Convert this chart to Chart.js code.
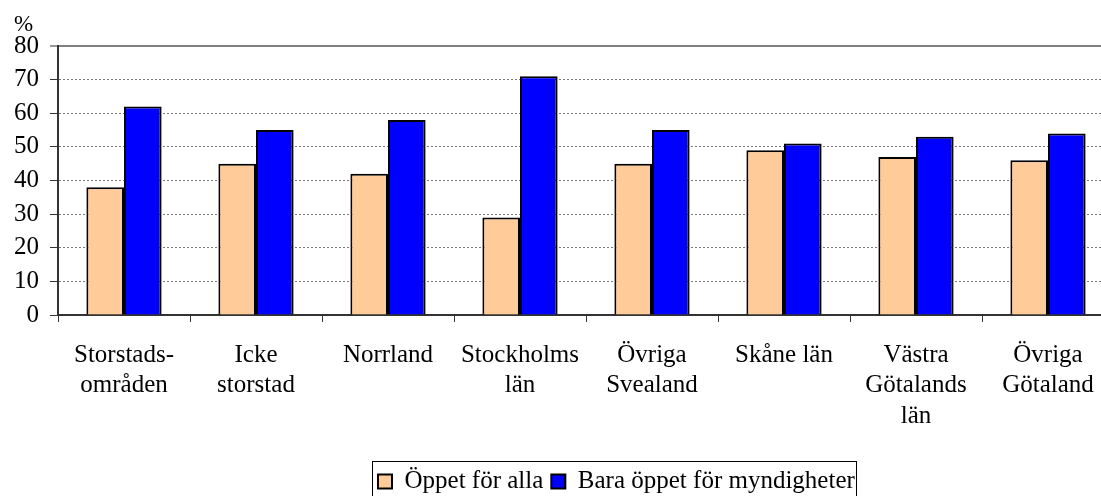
<!DOCTYPE html>
<html>
<head>
<meta charset="utf-8">
<script src="https://cdn.jsdelivr.net/npm/chart.js@4"></script>
<style>
  html, body { margin: 0; padding: 0; background: #fff; overflow: hidden; }
  #wrap { width: 1101px; height: 496px; overflow: hidden; position: relative; }
  #box { width: 1228px; height: 496px; }
</style>
</head>
<body>
<div id="wrap"><div id="box"><canvas id="grafico"></canvas></div></div>
<script>
const kategorier = [
  ["Storstads-", "områden"],
  ["Icke", "storstad"],
  "Norrland",
  ["Stockholms", "län"],
  ["Övriga", "Svealand"],
  "Skåne län",
  ["Västra", "Götalands", "län"],
  ["Övriga", "Götaland"]
];
const oppetForAlla = [38, 45, 42, 29, 45, 49, 47, 46];
const baraMyndigheter = [62, 55, 58, 71, 55, 51, 53, 54];
const yTicks = [0, 10, 20, 30, 40, 50, 60, 70, 80];

const serif = "'Liberation Serif', 'Times New Roman', serif";

// flytta legenden, rita ram runt den och "%" ovanför y-axeln
const extras = {
  id: "extras",
  afterUpdate(chart) {
    const lg = chart.legend;
    const hb = lg.legendHitBoxes;
    if (!hb || !hb.length) return;
    const d = 378 - hb[0].left;
    lg.left += d;
    lg.right += d;
    hb.forEach(h => { h.left += d; });
  },
  afterDraw(chart) {
    const ctx = chart.ctx;
    ctx.save();
    ctx.fillStyle = "#000";
    ctx.font = "23px " + serif;
    ctx.textBaseline = "alphabetic";
    ctx.fillText("%", 14, 31);

    const hb = chart.legend.legendHitBoxes;
    if (hb && hb.length) {
      const left = hb[0].left - 6;
      const right = hb[hb.length - 1].left + hb[hb.length - 1].width + 1;
      const top = hb[0].top - 8;
      ctx.strokeStyle = "#000";
      ctx.lineWidth = 1;
      ctx.strokeRect(Math.round(left) + 0.5, Math.round(top) + 0.5, Math.round(right - left), 60);
    }
    ctx.restore();
  }
};

new Chart(document.getElementById("grafico"), {
  type: "bar",
  data: {
    labels: kategorier,
    datasets: [
      {
        label: "Öppet för alla",
        data: oppetForAlla,
        backgroundColor: "#ffcc99",
        borderColor: "#000",
        borderWidth: 2
      },
      {
        label: "Bara öppet för myndigheter",
        data: baraMyndigheter,
        backgroundColor: "#0000ff",
        borderColor: "#000",
        borderWidth: 2
      }
    ]
  },
  options: {
    responsive: true,
    maintainAspectRatio: false,
    animation: false,
    layout: { padding: { left: 0, right: 114, top: 46, bottom: -8 } },
    datasets: { bar: { categoryPercentage: 0.57, barPercentage: 1.0 } },
    scales: {
      x: {
        offset: true,
        grid: {
          offset: true,
          drawOnChartArea: false,
          drawTicks: true,
          tickLength: 7,
          tickColor: "#333",
          tickWidth: 1
        },
        border: { color: "#333", width: 2 },
        ticks: {
          color: "#000",
          font: { family: serif, size: 25, lineHeight: 1.22 },
          padding: 18,
          maxRotation: 0,
          autoSkip: false
        },
        afterFit(scale) { scale.height = 146; }
      },
      y: {
        min: 0,
        max: 80,
        afterBuildTicks(scale) { scale.ticks = yTicks.map(v => ({ value: v })); },
        grid: {
          color: c => (c.tick && c.tick.value === 80 ? "#808080" : "#7a7a7a"),
          lineWidth: c => (c.tick && c.tick.value === 80 ? 2 : 1),
          tickLength: 8,
          tickColor: "#333",
          tickWidth: 1
        },
        border: {
          color: "#333",
          width: 2,
          dash: c => (c.tick && c.tick.value === 80 ? [] : [2, 2])
        },
        ticks: {
          color: "#000",
          font: { family: serif, size: 25 },
          padding: 11
        },
        afterFit(scale) { scale.width = 58; }
      }
    },
    plugins: {
      legend: {
        position: "bottom",
        labels: {
          color: "#000",
          font: { family: serif, size: 25 },
          boxWidth: 14,
          boxHeight: 14,
          padding: 8
        }
      },
      tooltip: { enabled: false }
    }
  },
  plugins: [extras]
});
</script>
</body>
</html>
